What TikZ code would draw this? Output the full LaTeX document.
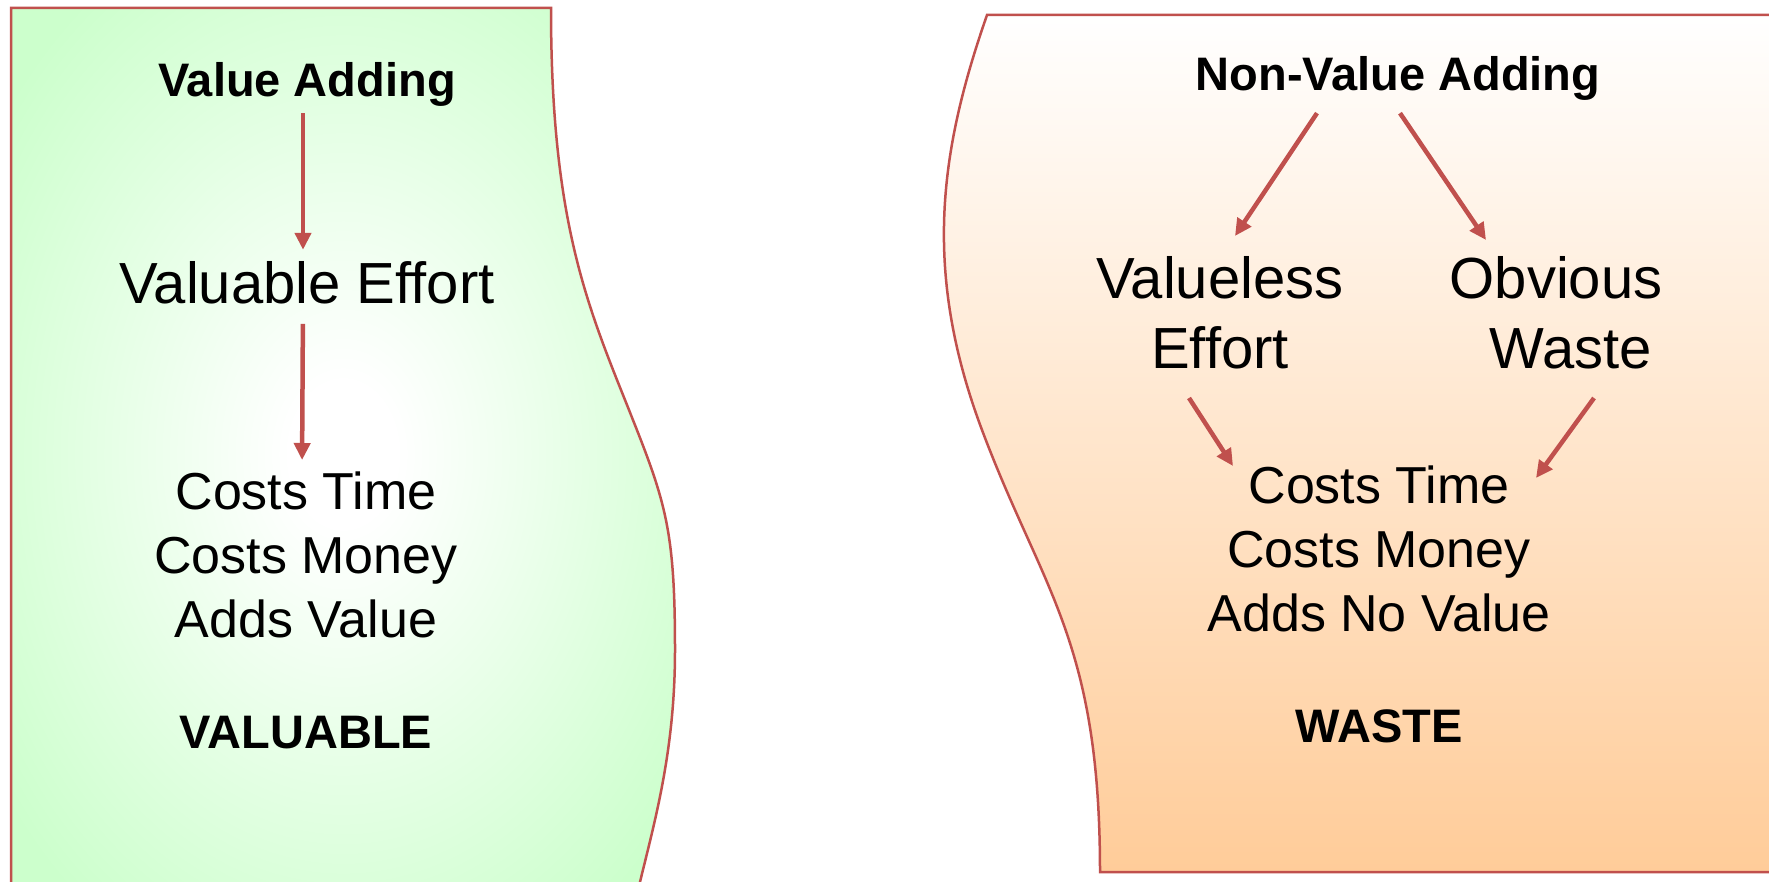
\documentclass[tikz,border=0pt]{standalone}
\usepackage{fontspec}
\setmainfont{Liberation Sans}
\usepackage{xcolor}
\usepackage{tikz}
\usetikzlibrary{positioning, arrows.meta}

\definecolor{edgered}{HTML}{C0504D}
\definecolor{valgreen}{HTML}{CCFFCC}
\definecolor{wasteorange}{HTML}{FFCC99}
\pgfdeclareradialshading{valglow}{\pgfpoint{0bp}{0bp}}{color(0bp)=(white); color(4bp)=(white); color(32bp)=(valgreen); color(100bp)=(valgreen)}

\begin{document}
\begin{tikzpicture}[
    x=1pt, y=-1pt,
    panel/.style={draw=edgered, line width=2.5pt},
    arr/.style={-{Triangle[length=17pt, width=16pt]}, line width=4.5pt, edgered},
    head/.style={font=\fontsize{47}{56}\selectfont\bfseries, inner sep=0pt, anchor=base},
    effort/.style={font=\fontsize{58}{70}\selectfont, inner sep=0pt, align=center},
    costs/.style={font=\fontsize{52}{64}\selectfont, inner sep=0pt, align=center, anchor=north},
]
\useasboundingbox (0,0) rectangle (1769,882);
\clip (0,0) rectangle (1769,882);

\shadedraw[panel, shading=valglow] (11,8) -- (551,8) .. controls (551,215) and (585,300) .. (625,400) .. controls (665,500) and (675,525) .. (675,650) .. controls (675,750) and (655,820) .. (640,882) -- (636,900) -- (11,900) -- cycle;
\shadedraw[panel, top color=white, bottom color=wasteorange] (987,15) -- (1800,15) -- (1800,872) -- (1100,872) .. controls (1100,640) and (1042,590) .. (982,430) .. controls (922,270) and (940,150) .. (987,15) -- cycle;

\node[head] (valadd) at (307,97) {Value Adding};
\node[effort, anchor=base] (valeff) at (307,304) {Valuable Effort};
\node[costs] (valcost) at (306,472) {Costs Time\\Costs Money\\Adds Value};
\node[head] (valtag) at (306,748) {VALUABLE};

\node[head] (nonadd) at (1398,91) {Non-Value Adding};
\node[effort, anchor=north] (uselesseff) at (1220,256) {Valueless\\Effort};
\node[effort, anchor=north] (obvwaste) at (1556,256) {Obvious\\\hspace*{30pt}Waste};
\node[costs] (wastecost) at (1379,466) {Costs Time\\Costs Money\\Adds No Value};
\node[head] (wastetag) at (1379,742) {WASTE};

\draw[arr, shorten <=6pt, shorten >=12pt] ([xshift=-4pt]valadd.south) -- ([xshift=-4pt]valeff.north);
\draw[arr, shorten <=19pt, shorten >=12pt] ([xshift=-4pt]valeff.south) -- ([xshift=-4pt]valcost.north);

\draw[arr] ([xshift=-81pt,yshift=-12pt]nonadd.south) -- ([xshift=15pt,yshift=20pt]uselesseff.north);
\draw[arr] ([xshift=2pt,yshift=-12pt]nonadd.south) -- ([xshift=-70pt,yshift=16pt]obvwaste.north);
\draw[arr] ([xshift=-31pt,yshift=-29pt]uselesseff.south) -- ([xshift=-146pt]wastecost.north);
\draw[arr] ([xshift=38pt,yshift=-29pt]obvwaste.south) -- ([xshift=157pt,yshift=-12pt]wastecost.north);

\end{tikzpicture}
\end{document}
